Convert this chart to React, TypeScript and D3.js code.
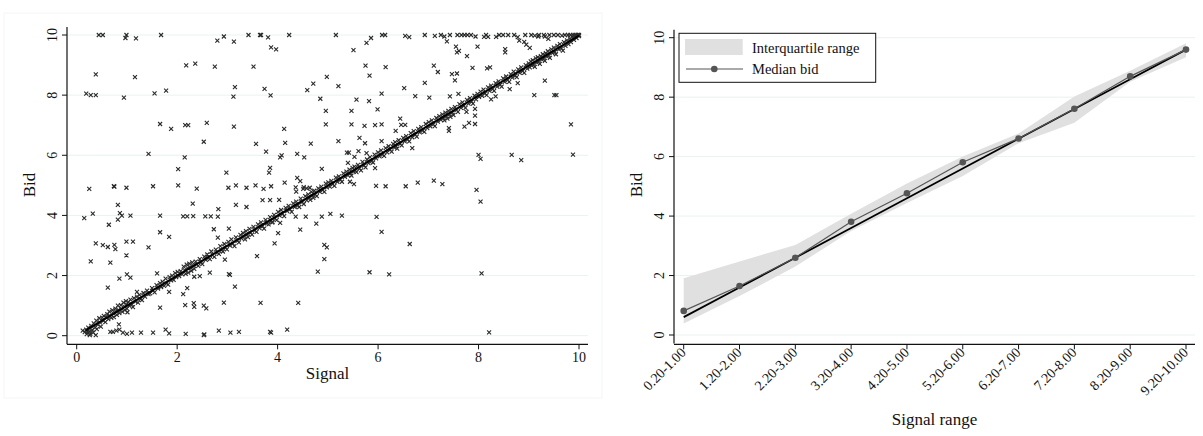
import * as d3 from 'd3';
import React from 'react';

// ---- left panel: individual bids (signal, bid) ----
// bids far from the diagonal
const offLine: [number, number][] = [
  [0.44, 10], [0.52, 10], [0.99, 10], [0.97, 9.9], [1.18, 9.89], [1.68, 10], [2.8, 9.81], [2.93, 9.95],
  [3.13, 9.78], [3.42, 10], [3.65, 10], [3.67, 10], [3.81, 9.92], [3.87, 9.59], [3.97, 9.52], [4.23, 10],
  [0.38, 8.69], [1.16, 8.6], [2.18, 8.99], [2.36, 9.05], [2.75, 8.95], [3.52, 8.95], [4.98, 8.61], [4.71, 8.38],
  [4.59, 8.17], [4.85, 7.88], [4.96, 7.48], [4.96, 7.03], [0.19, 8.05], [0.28, 8.0], [0.38, 8.0], [0.94, 7.92],
  [1.55, 8.06], [1.78, 8.15], [3.15, 8.27], [3.12, 7.95], [3.74, 8.21], [3.86, 7.99], [1.66, 7.04], [1.88, 6.88],
  [2.16, 7.0], [2.22, 7.0], [2.59, 7.08], [3.13, 6.95], [4.13, 6.88], [2.53, 6.45], [3.57, 6.38], [4.15, 6.41],
  [4.66, 6.39], [3.77, 6.12], [1.43, 6.05], [2.15, 5.93], [4.08, 6.0], [4.05, 5.93], [4.39, 6.05], [4.53, 5.93],
  [2.02, 5.54], [2.98, 5.42], [3.85, 5.58], [3.83, 5.42], [4.88, 5.55], [4.39, 5.25], [4.45, 5.14], [0.25, 4.88],
  [0.74, 4.97], [0.75, 4.96], [0.99, 4.92], [1.52, 4.97], [2.02, 5.0], [2.39, 4.89], [3.02, 4.92], [3.17, 5.0],
  [3.38, 4.92], [3.56, 5.0], [3.72, 4.88], [3.87, 4.97], [4.14, 5.09], [4.36, 4.93], [4.52, 4.94], [4.64, 4.92],
  [5.16, 10], [5.77, 9.74], [5.86, 9.9], [6.08, 10], [6.14, 10], [6.54, 9.97], [6.62, 9.93], [6.93, 10],
  [7.13, 9.97], [7.25, 10], [7.32, 9.95], [7.43, 10], [7.37, 9.79], [7.58, 10], [7.66, 10], [7.72, 10],
  [7.78, 10], [7.85, 10], [7.94, 9.95], [8.15, 10], [8.19, 9.94], [8.11, 9.94], [8.35, 9.94], [8.41, 10],
  [8.49, 10], [8.59, 10], [8.71, 10], [8.78, 9.93], [8.93, 10], [9.05, 10], [9.12, 9.98], [9.2, 10],
  [9.3, 10], [9.41, 10], [9.5, 10], [9.58, 10], [8.81, 9.81], [8.91, 9.77], [8.95, 9.68], [9.02, 9.57],
  [9.19, 9.95], [9.32, 9.95], [9.39, 9.87], [5.51, 9.5], [7.55, 9.61], [7.57, 9.42], [7.61, 9.47], [7.77, 9.3],
  [7.98, 9.61], [8.53, 9.53], [8.53, 9.42], [5.75, 8.98], [6.15, 8.93], [5.83, 8.65], [7.11, 8.98], [7.19, 8.77],
  [7.47, 8.7], [7.57, 8.72], [7.53, 8.49], [7.88, 8.91], [8.17, 8.89], [8.23, 8.92], [5.21, 8.3], [6.52, 8.23],
  [6.93, 8.41], [6.07, 8.05], [6.74, 7.97], [7.02, 7.92], [7.43, 7.96], [7.6, 8.04], [9.32, 8.48], [9.11, 8.0],
  [9.51, 8.0], [9.55, 8.0], [8.25, 7.86], [8.34, 7.96], [8.62, 8.2], [8.78, 8.4], [5.57, 7.85], [5.82, 7.8],
  [5.47, 7.48], [5.99, 7.53], [5.47, 7.03], [5.73, 6.98], [5.94, 7.0], [6.07, 7.03], [6.44, 7.22], [6.46, 7.01],
  [6.54, 7.01], [6.35, 6.81], [7.41, 6.9], [7.41, 6.81], [7.72, 6.95], [7.81, 7.08], [7.93, 7.04], [7.93, 7.54],
  [7.93, 7.32], [7.76, 7.44], [9.84, 7.03], [5.21, 6.47], [5.63, 6.58], [5.74, 6.4], [6.07, 6.47], [6.68, 6.24],
  [5.38, 6.09], [5.42, 6.09], [5.61, 6.14], [5.53, 5.95], [5.4, 5.75], [5.77, 6.07], [8.0, 6.01], [8.04, 5.88],
  [8.66, 6.01], [8.85, 5.84], [9.88, 6.02], [5.94, 5.57], [5.44, 5.12], [5.52, 5.04], [5.96, 4.98], [6.15, 4.97],
  [6.55, 4.97], [6.79, 5.09], [7.11, 5.16], [7.28, 5.04], [7.96, 4.85], [8.04, 4.46], [0.82, 4.35], [0.86, 4.08],
  [0.9, 3.99], [0.82, 3.86], [1.07, 3.99], [0.15, 3.91], [0.32, 4.06], [0.64, 3.69], [1.66, 3.99], [2.12, 3.97],
  [2.2, 3.97], [2.32, 3.98], [2.31, 4.39], [2.56, 3.97], [2.67, 3.97], [2.81, 3.96], [2.82, 4.21], [3.17, 4.35],
  [3.38, 4.28], [1.66, 3.44], [1.84, 3.29], [0.38, 3.07], [0.52, 3.01], [0.62, 2.95], [0.75, 3.02], [0.77, 2.88],
  [0.99, 3.13], [1.12, 3.13], [1.43, 2.94], [0.99, 2.67], [0.28, 2.47], [0.67, 2.43], [2.73, 3.54], [3.03, 3.56],
  [2.81, 3.26], [2.95, 2.53], [3.59, 2.65], [3.94, 3.07], [4.01, 3.41], [4.45, 3.53], [4.77, 3.73], [4.88, 3.96],
  [4.93, 3.02], [4.98, 2.94], [4.93, 2.55], [4.8, 2.13], [3.7, 4.51], [3.85, 4.51], [4.03, 4.52], [3.89, 3.77],
  [4.05, 3.75], [4.36, 3.96], [4.56, 3.96], [4.37, 4.79], [4.51, 4.88], [4.58, 4.9], [0.85, 1.9], [1.0, 2.04],
  [1.07, 1.93], [1.6, 2.07], [0.62, 1.6], [1.2, 1.46], [1.84, 1.46], [2.12, 1.38], [2.2, 1.58], [1.66, 0.93],
  [2.16, 1.02], [2.33, 1.08], [2.34, 0.96], [2.53, 1.0], [2.58, 0.91], [2.93, 1.1], [3.66, 1.09], [4.41, 1.09],
  [2.65, 2.1], [3.03, 2.05], [3.05, 2.02], [2.34, 1.96], [2.45, 1.98], [3.15, 1.63], [0.84, 0.38], [5.05, 4.05],
  [5.28, 3.99], [5.97, 3.95], [6.07, 3.45], [6.63, 3.05], [5.83, 2.11], [6.22, 2.04], [8.06, 2.07], [8.21, 0.11],
  [0.12, 0.17], [0.21, 0.13], [0.27, 0.06], [0.38, 0.02], [0.67, 0.13], [0.72, 0.13], [0.79, 0.17], [0.85, 0.2],
  [0.92, 0.1], [1.0, 0.06], [1.1, 0.1], [1.28, 0.1], [1.52, 0.1], [1.77, 0.2], [1.84, 0.08], [2.17, 0.06],
  [2.53, 0.02], [2.54, 0.04], [2.83, 0.17], [3.06, 0.1], [3.23, 0.13], [3.85, 0.13], [3.87, 0.1], [4.19, 0.2],
];

// bids close to the signal (the dense diagonal band)
const onLine: [number, number][] = [
  [0.16, 0.12], [0.19, 0.2], [0.2, 0.05], [0.23, 0.27], [0.25, 0.14], [0.26, 0.02], [0.29, 0.33], [0.31, 0.19],
  [0.33, 0.1], [0.34, 0.41], [0.37, 0.28], [0.39, 0.5], [0.4, 0.22], [0.42, 0.37], [0.45, 0.58], [0.46, 0.44],
  [0.48, 0.3], [0.51, 0.6], [0.53, 0.49], [0.54, 0.66], [0.57, 0.45], [0.58, 0.62], [0.61, 0.72], [0.63, 0.55],
  [0.65, 0.8], [0.66, 0.67], [0.69, 0.59], [0.71, 0.85], [0.73, 0.74], [0.74, 0.62], [0.77, 0.9], [0.78, 0.81],
  [0.8, 0.69], [0.82, 1.0], [0.83, 0.86], [0.85, 0.75], [0.88, 1.02], [0.89, 0.9], [0.91, 0.79], [0.93, 1.1],
  [0.95, 0.97], [0.96, 0.85], [0.98, 1.15], [0.99, 1.03], [1.0, 0.9], [1.01, 0.78],
  [1.03, 1.12], [1.05, 0.99], [1.07, 1.2], [1.1, 1.04], [1.12, 0.95], [1.14, 1.25], [1.17, 1.13], [1.2, 1.3],
  [1.22, 1.1], [1.25, 1.36], [1.27, 1.22], [1.3, 1.18], [1.33, 1.42], [1.36, 1.3], [1.4, 1.5], [1.43, 1.38],
  [1.46, 1.41], [1.5, 1.58], [1.52, 1.5], [1.55, 1.44], [1.59, 1.68], [1.62, 1.57], [1.66, 1.75], [1.68, 1.62],
  [1.71, 1.8], [1.74, 1.66], [1.77, 1.9], [1.79, 1.74], [1.82, 1.7], [1.85, 1.95], [1.88, 1.84], [1.9, 2.0],
  [1.93, 1.86], [1.96, 2.08], [1.98, 1.95],
  [2.01, 2.12], [2.04, 1.98], [2.07, 2.15], [2.1, 2.04], [2.13, 2.3], [2.15, 2.18], [2.17, 2.06], [2.19, 2.36],
  [2.21, 2.25], [2.22, 2.1], [2.24, 2.4], [2.26, 2.28], [2.28, 2.16], [2.3, 2.44], [2.32, 2.33], [2.34, 2.22],
  [2.37, 2.46], [2.39, 2.37], [2.42, 2.32], [2.45, 2.55], [2.48, 2.45], [2.5, 2.38], [2.54, 2.63], [2.57, 2.52],
  [2.6, 2.7], [2.62, 2.58], [2.65, 2.55], [2.68, 2.8], [2.71, 2.68], [2.74, 2.62], [2.77, 2.86], [2.8, 2.76],
  [2.83, 2.72], [2.86, 2.98], [2.88, 2.85], [2.91, 2.8], [2.94, 3.05], [2.96, 2.93], [2.99, 2.87],
  [3.02, 3.12], [3.05, 3.0], [3.08, 3.2], [3.11, 3.06], [3.14, 2.98], [3.17, 3.27], [3.2, 3.15], [3.23, 3.1],
  [3.26, 3.35], [3.28, 3.24], [3.31, 3.42], [3.33, 3.3], [3.35, 3.2], [3.37, 3.48], [3.39, 3.36], [3.41, 3.28],
  [3.44, 3.55], [3.46, 3.42], [3.49, 3.36], [3.52, 3.62], [3.55, 3.5], [3.58, 3.45], [3.61, 3.7], [3.64, 3.58],
  [3.67, 3.77], [3.7, 3.64], [3.73, 3.56], [3.76, 3.85], [3.79, 3.74], [3.82, 3.7], [3.85, 3.94], [3.87, 3.82],
  [3.9, 3.78], [3.93, 4.02], [3.95, 3.9], [3.98, 3.84],
  [4.01, 4.12], [4.04, 3.99], [4.07, 4.18], [4.1, 4.05], [4.13, 3.98], [4.16, 4.25], [4.19, 4.14], [4.22, 4.32],
  [4.25, 4.2], [4.28, 4.12], [4.31, 4.4], [4.34, 4.28], [4.37, 4.46], [4.4, 4.33], [4.43, 4.28], [4.46, 4.56],
  [4.49, 4.44], [4.52, 4.38], [4.55, 4.64], [4.58, 4.5], [4.61, 4.7], [4.63, 4.58], [4.65, 4.52], [4.67, 4.78],
  [4.69, 4.66], [4.71, 4.58], [4.73, 4.82], [4.75, 4.7], [4.78, 4.64], [4.81, 4.9], [4.84, 4.78], [4.87, 4.96],
  [4.9, 4.84], [4.93, 4.78], [4.96, 5.06], [4.98, 4.93],
  [5.01, 5.1], [5.04, 4.96], [5.07, 5.15], [5.1, 5.04], [5.13, 4.98], [5.16, 5.26], [5.19, 5.12], [5.22, 5.3],
  [5.25, 5.18], [5.28, 5.12], [5.31, 5.4], [5.34, 5.28], [5.37, 5.46], [5.4, 5.33], [5.43, 5.52], [5.45, 5.4],
  [5.47, 5.32], [5.49, 5.58], [5.51, 5.46], [5.53, 5.62], [5.55, 5.5], [5.57, 5.44], [5.6, 5.68], [5.63, 5.56],
  [5.66, 5.5], [5.69, 5.78], [5.72, 5.66], [5.75, 5.6], [5.78, 5.86], [5.81, 5.74], [5.84, 5.94], [5.87, 5.8],
  [5.9, 5.76], [5.93, 6.02], [5.96, 5.9],
  [6.0, 6.1], [6.03, 5.96], [6.06, 6.16], [6.09, 6.02], [6.12, 5.98], [6.15, 6.24], [6.18, 6.1], [6.21, 6.3],
  [6.24, 6.18], [6.27, 6.12], [6.3, 6.38], [6.32, 6.26], [6.34, 6.44], [6.36, 6.3], [6.38, 6.22], [6.41, 6.5],
  [6.44, 6.38], [6.47, 6.33], [6.5, 6.58], [6.53, 6.46], [6.56, 6.64], [6.59, 6.52], [6.62, 6.46], [6.65, 6.74],
  [6.68, 6.6], [6.71, 6.8], [6.74, 6.68], [6.77, 6.62], [6.8, 6.88], [6.83, 6.76], [6.86, 6.94], [6.89, 6.82],
  [6.92, 6.78], [6.95, 7.04], [6.98, 6.9],
  [7.01, 7.1], [7.04, 6.96], [7.07, 7.16], [7.1, 7.03], [7.13, 6.97], [7.16, 7.24], [7.19, 7.12], [7.22, 7.3],
  [7.25, 7.18], [7.28, 7.36], [7.3, 7.24], [7.32, 7.16], [7.34, 7.42], [7.36, 7.3], [7.38, 7.22], [7.4, 7.48],
  [7.42, 7.36], [7.44, 7.28], [7.46, 7.54], [7.48, 7.42], [7.5, 7.34], [7.53, 7.6], [7.56, 7.5], [7.59, 7.44],
  [7.62, 7.7], [7.65, 7.58], [7.68, 7.76], [7.71, 7.64], [7.74, 7.58], [7.77, 7.84], [7.8, 7.72], [7.83, 7.9],
  [7.86, 7.78], [7.89, 7.72], [7.92, 7.98], [7.95, 7.86], [7.98, 8.04],
  [8.01, 7.94], [8.04, 8.12], [8.07, 7.98], [8.1, 8.18], [8.13, 8.06], [8.16, 8.0], [8.19, 8.26], [8.22, 8.14],
  [8.25, 8.32], [8.28, 8.2], [8.31, 8.14], [8.34, 8.4], [8.37, 8.28], [8.4, 8.46], [8.43, 8.34], [8.46, 8.28],
  [8.49, 8.56], [8.52, 8.44], [8.55, 8.62], [8.58, 8.5], [8.61, 8.44], [8.64, 8.7], [8.67, 8.58], [8.7, 8.78],
  [8.73, 8.64], [8.76, 8.6], [8.79, 8.86], [8.82, 8.74], [8.85, 8.92], [8.88, 8.8], [8.91, 8.74], [8.94, 9.0],
  [8.97, 8.88],
  [9.0, 9.06], [9.02, 8.92], [9.04, 9.12], [9.06, 8.98], [9.08, 9.16], [9.1, 9.02], [9.12, 8.94], [9.14, 9.22],
  [9.16, 9.08], [9.18, 9.26], [9.2, 9.12], [9.22, 9.04], [9.24, 9.3], [9.26, 9.18], [9.28, 9.36], [9.3, 9.22],
  [9.32, 9.14], [9.34, 9.4], [9.36, 9.28], [9.38, 9.46], [9.4, 9.32], [9.42, 9.24], [9.45, 9.52], [9.47, 9.4],
  [9.5, 9.58], [9.52, 9.44], [9.54, 9.36], [9.57, 9.64], [9.6, 9.52], [9.62, 9.7], [9.65, 9.56], [9.68, 9.48],
  [9.7, 9.76], [9.73, 9.64], [9.76, 9.82], [9.79, 9.7], [9.82, 9.88], [9.84, 9.76], [9.87, 9.94], [9.9, 9.84],
  [9.92, 9.98], [9.95, 9.9], [9.97, 10], [10, 9.96], [10, 10], [9.98, 10], [9.93, 10], [9.88, 10],
  [9.83, 10], [9.78, 10], [9.72, 10], [9.66, 9.98],
];

const fitLine: [number, number][] = [[0.18, 0.18], [10, 9.98]];

// ---- right panel: bids by signal range ----
const signalRanges = ['0.20-1.00', '1.20-2.00', '2.20-3.00', '3.20-4.00', '4.20-5.00',
  '5.20-6.00', '6.20-7.00', '7.20-8.00', '8.20-9.00', '9.20-10.00'];
const rangeMid = [0.6, 1.6, 2.6, 3.6, 4.6, 5.6, 6.6, 7.6, 8.6, 9.6];
const medianBid = [0.81, 1.65, 2.6, 3.81, 4.77, 5.81, 6.61, 7.61, 8.7, 9.6];
const iqrLow = [0.39, 1.31, 2.3, 3.5, 4.44, 5.35, 6.45, 7.14, 8.52, 9.34];
const iqrHigh = [1.91, 2.47, 3.03, 4.08, 5.1, 6.0, 6.78, 8.02, 8.89, 9.81];

const yTicks = [0, 2, 4, 6, 8, 10];
const xTicks = [0, 2, 4, 6, 8, 10];

const FONT = '"Liberation Serif", "Times New Roman", serif';
const GRID = '#e9f1f1';
const INK = '#111';
const TICK_FS = 14;

const cross = 'M-2,-2L2,2M-2,2L2,-2';

function YAxis({ y, x0, x1 }: { y: d3.ScaleLinear<number, number>; x0: number; x1: number }) {
  const [top, bottom] = [y.range()[1] - 8, y.range()[0] + 8.5];
  return (
    <g>
      {yTicks.map(t => (
        <g key={t}>
          <line x1={x0} x2={x1} y1={y(t)} y2={y(t)} stroke={GRID} strokeWidth={1} />
          <line x1={x0 - 5} x2={x0} y1={y(t)} y2={y(t)} stroke={INK} />
          <text transform={`translate(${x0 - 10},${y(t)}) rotate(-90)`} textAnchor="middle"
            fontSize={TICK_FS} fontFamily={FONT} fill={INK}>{t}</text>
        </g>
      ))}
      <line x1={x0} x2={x0} y1={top} y2={bottom} stroke={INK} strokeWidth={1.2} />
    </g>
  );
}

export default function App() {
  // left panel scales
  const xL = d3.scaleLinear().domain([0, 10]).range([76.7, 579]);
  const yL = d3.scaleLinear().domain([0, 10]).range([335.7, 35]);
  const fit = d3.line<[number, number]>().x(d => xL(d[0])).y(d => yL(d[1]));

  // right panel scales
  const xR = d3.scalePoint<string>().domain(signalRanges).range([683.7, 1186]);
  const yR = d3.scaleLinear().domain([0, 10]).range([335, 37.7]);
  const band = d3.area<number>()
    .x((_, i) => xR(signalRanges[i])!)
    .y0((_, i) => yR(iqrLow[i]))
    .y1((_, i) => yR(iqrHigh[i]));
  const line = d3.line<number>().x((_, i) => xR(signalRanges[i])!).y(d => yR(d));

  const axisY = 344.3;

  return (
    <svg width={1203} height={436} style={{ position: 'absolute', left: 0, top: 0, background: '#fff' }}>
      <rect x={4} y={13} width={598} height={385} fill="none" stroke="#f3f5f5" />

      {/* left panel */}
      <YAxis y={yL} x0={67} x1={588} />
      <g>
        {xTicks.map(t => (
          <g key={t}>
            <line x1={xL(t)} x2={xL(t)} y1={axisY} y2={axisY + 5} stroke={INK} />
            <text x={xL(t)} y={axisY + 18} textAnchor="middle" fontSize={TICK_FS} fontFamily={FONT} fill={INK}>{t}</text>
          </g>
        ))}
        <line x1={67} x2={588} y1={axisY} y2={axisY} stroke={INK} strokeWidth={1.2} />
      </g>
      <g stroke="#2a2a2a" strokeWidth={1.1} fill="none">
        {offLine.concat(onLine).map((d, i) => (
          <path key={i} d={cross} transform={`translate(${xL(d[0])},${yL(d[1])})`} />
        ))}
      </g>
      <path d={fit(fitLine)!} stroke="#000" strokeWidth={2} fill="none" />
      <text transform={`translate(35,185) rotate(-90)`} textAnchor="middle" fontSize={17} fontFamily={FONT} fill={INK}>Bid</text>
      <text x={327.5} y={379} textAnchor="middle" fontSize={17} fontFamily={FONT} fill={INK}>Signal</text>

      {/* right panel */}
      <YAxis y={yR} x0={674} x1={1195} />
      <path d={band(medianBid)!} fill="#e0e0e0" stroke="none" />
      <path d={line(rangeMid)!} stroke="#000" strokeWidth={1.8} fill="none" />
      <path d={line(medianBid)!} stroke="#555" strokeWidth={1.2} fill="none" />
      {medianBid.map((d, i) => (
        <circle key={i} cx={xR(signalRanges[i])} cy={yR(d)} r={3.3} fill="#555" />
      ))}
      <g>
        {signalRanges.map(s => (
          <g key={s}>
            <line x1={xR(s)} x2={xR(s)} y1={axisY} y2={axisY + 5} stroke={INK} />
            <text transform={`translate(${xR(s)! + 3},${axisY + 9}) rotate(-45)`} textAnchor="end"
              fontSize={TICK_FS} fontFamily={FONT} fill={INK}>{s}</text>
          </g>
        ))}
        <line x1={674} x2={1195} y1={axisY} y2={axisY} stroke={INK} strokeWidth={1.2} />
      </g>
      <text transform={`translate(642,185) rotate(-90)`} textAnchor="middle" fontSize={17} fontFamily={FONT} fill={INK}>Bid</text>
      <text x={934.5} y={425} textAnchor="middle" fontSize={17} fontFamily={FONT} fill={INK}>Signal range</text>

      {/* legend */}
      <g>
        <rect x={679} y={33.3} width={196.7} height={49} fill="#fff" stroke={INK} strokeWidth={1} />
        <rect x={685} y={39} width={57.7} height={16} fill="#e0e0e0" />
        <line x1={686} x2={743} y1={69} y2={69} stroke="#555" strokeWidth={1.2} />
        <circle cx={714.3} cy={69} r={3.3} fill="#555" />
        <text x={752} y={53} fontSize={14.5} fontFamily={FONT} fill={INK}>Interquartile range</text>
        <text x={752} y={74} fontSize={14.5} fontFamily={FONT} fill={INK}>Median bid</text>
      </g>
    </svg>
  );
}
